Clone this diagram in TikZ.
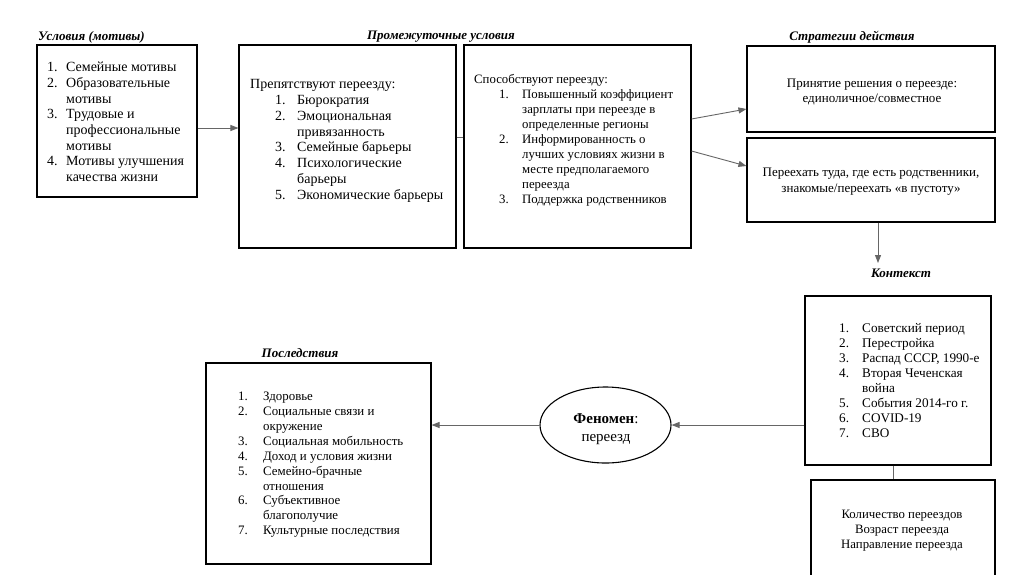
\documentclass[tikz,border=0pt]{standalone}
\usepackage{fontspec}
\setmainfont{Liberation Serif}
\usetikzlibrary{arrows.meta,shapes.geometric}
\tikzset{
  x=1pt, y=-1pt,
  box/.style={draw=black, line width=1.1pt, rectangle, inner sep=0pt},
  ttl/.style={font=\fontsize{13}{15}\selectfont\bfseries\itshape, inner sep=0pt},
  txt/.style={inner sep=0pt, align=left, anchor=north west},
  ctxt/.style={inner sep=0pt, align=center},
  conn/.style={draw=black!60, line width=0.9pt},
  arr/.style={conn, -{Triangle[length=8pt,width=6pt]}},
}
\newcommand{\nm}[2]{\makebox[#1][l]{#2}}
\begin{document}
\begin{tikzpicture}
\useasboundingbox[fill=white] (0,0) rectangle (1024,574);
% titles
\node[ttl, anchor=west] (t1) at (38,37) {Условия (мотивы)};
\node[ttl] (t2) at (441,37) {Промежуточные условия};
\node[ttl] (t3) at (852,37) {Стратегии действия};
\node[ttl] (t4) at (901,273) {Контекст};
\node[ttl] (t5) at (300,353) {Последствия};
% boxes
\node[box, minimum width=160pt, minimum height=152pt] (b1) at (117,121) {};
\node[box, minimum width=217pt, minimum height=203pt] (b2) at (347.5,146.5) {};
\node[box, minimum width=227pt, minimum height=203pt] (b3) at (577.5,146.5) {};
\node[box, minimum width=248pt, minimum height=86pt] (b4) at (871,89) {};
\node[box, minimum width=248pt, minimum height=84pt] (b5) at (871,180) {};
\node[box, minimum width=186pt, minimum height=169pt] (b6) at (898,380.5) {};
\node[box, minimum width=184pt, minimum height=120pt] (b7) at (903,540) {};
\node[box, minimum width=225pt, minimum height=201pt] (b8) at (318.5,463.5) {};
\node[draw=black, line width=1.1pt, ellipse, minimum width=131pt, minimum height=76pt, inner sep=0pt] (ell) at (605.5,425) {};
% texts
\node[txt, font=\fontsize{14}{15.7}\selectfont] (x1) at (47,60.5) {%
\strut\nm{19pt}{1.}Семейные мотивы\\
\nm{19pt}{2.}Образовательные\\
\nm{19pt}{}мотивы\\
\nm{19pt}{3.}Трудовые и\\
\nm{19pt}{}профессиональные\\
\nm{19pt}{}мотивы\\
\nm{19pt}{4.}Мотивы улучшения\\
\nm{19pt}{}качества жизни};
\node[txt, font=\fontsize{14}{15.8}\selectfont] (x2) at (250,77.5) {%
\strut Препятствуют переезду:\\
\hspace*{25pt}\nm{22pt}{1.}Бюрократия\\
\hspace*{25pt}\nm{22pt}{2.}Эмоциональная\\
\hspace*{25pt}\nm{22pt}{}привязанность\\
\hspace*{25pt}\nm{22pt}{3.}Семейные барьеры\\
\hspace*{25pt}\nm{22pt}{4.}Психологические\\
\hspace*{25pt}\nm{22pt}{}барьеры\\
\hspace*{25pt}\nm{22pt}{5.}Экономические барьеры};
\node[txt, font=\fontsize{12.8}{15}\selectfont] (x3) at (474,73) {%
\strut Способствуют переезду:\\
\hspace*{25pt}\nm{23pt}{1.}Повышенный коэффициент\\
\hspace*{25pt}\nm{23pt}{}зарплаты при переезде в\\
\hspace*{25pt}\nm{23pt}{}определенные регионы\\
\hspace*{25pt}\nm{23pt}{2.}Информированность о\\
\hspace*{25pt}\nm{23pt}{}лучших условиях жизни в\\
\hspace*{25pt}\nm{23pt}{}месте предполагаемого\\
\hspace*{25pt}\nm{23pt}{}переезда\\
\hspace*{25pt}\nm{23pt}{3.}Поддержка родственников};
\node[ctxt, font=\fontsize{13}{15}\selectfont] (x4) at (872,91.5) {Принятие решения о переезде:\\единоличное/совместное};
\node[ctxt, font=\fontsize{13}{16}\selectfont] (x5) at (871,182) {Переехать туда, где есть родственники,\\знакомые/переехать «в пустоту»};
\node[txt, font=\fontsize{13.2}{15}\selectfont] (x6) at (839,322) {%
\strut\nm{23pt}{1.}Советский период\\
\nm{23pt}{2.}Перестройка\\
\nm{23pt}{3.}Распад СССР, 1990-е\\
\nm{23pt}{4.}Вторая Чеченская\\
\nm{23pt}{}война\\
\nm{23pt}{5.}События 2014-го г.\\
\nm{23pt}{6.}COVID-19\\
\nm{23pt}{7.}СВО};
\node[ctxt, font=\fontsize{12.8}{15}\selectfont] (x7) at (902,531) {Количество переездов\\Возраст переезда\\Направление переезда};
\node[txt, font=\fontsize{12.9}{14.9}\selectfont] (x8) at (238,390) {%
\strut\nm{25pt}{1.}Здоровье\\
\nm{25pt}{2.}Социальные связи и\\
\nm{25pt}{}окружение\\
\nm{25pt}{3.}Социальная мобильность\\
\nm{25pt}{4.}Доход и условия жизни\\
\nm{25pt}{5.}Семейно-брачные\\
\nm{25pt}{}отношения\\
\nm{25pt}{6.}Субъективное\\
\nm{25pt}{}благополучие\\
\nm{25pt}{7.}Культурные последствия};
\node[ctxt, font=\fontsize{15}{18}\selectfont] (xe) at (606,429) {\textbf{Феномен}:\\переезд};
% connectors
\coordinate (ctxarr) at (878,263);
\draw[arr] ([yshift=-7pt]b1.east) -- ([yshift=-7pt]b1.east -| b2.west);
\draw[conn] ([yshift=9.5pt]b2.east) -- ([yshift=9.5pt]b3.west);
\draw[arr] ([yshift=27.5pt]b3.east) -- ([yshift=-20pt]b4.west);
\draw[arr] ([yshift=-4.5pt]b3.east) -- ([yshift=14pt]b5.west);
\draw[arr] ([xshift=7pt]b5.south) -- (ctxarr);
\draw[conn] ([xshift=-5pt]b6.south) -- ([xshift=-10pt]b7.north);
\draw[arr] (b6.west |- ell.east) -- (ell.east);
\draw[arr] (ell.west) -- (b8.east |- ell.west);
\end{tikzpicture}
\end{document}
